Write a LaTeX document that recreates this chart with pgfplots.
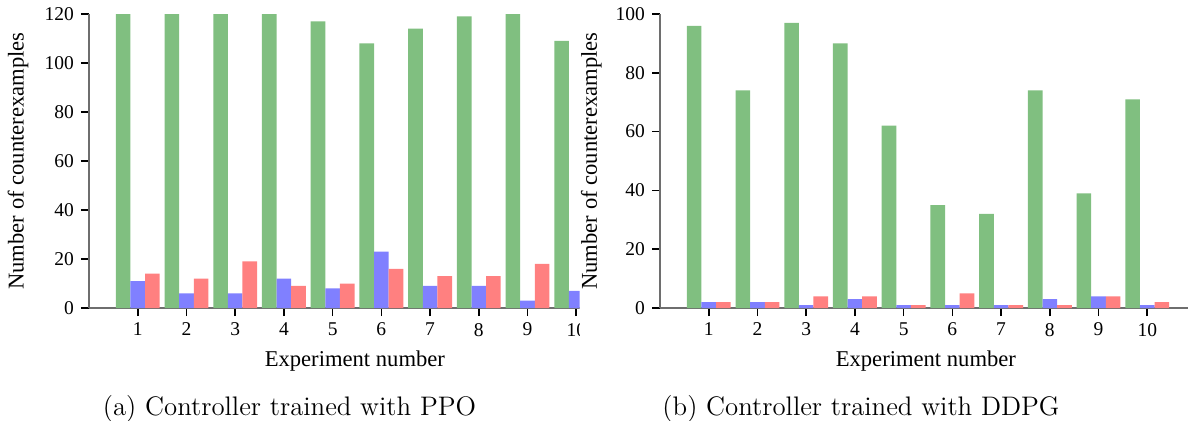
\documentclass[border=0pt]{standalone}
\usepackage{fontspec}
\usepackage{pgfplots}
\pgfplotsset{compat=1.18}
\newfontfamily\timesfont{Liberation Serif}
\definecolor{cg}{RGB}{128,191,128}
\definecolor{cb}{RGB}{128,128,255}
\definecolor{cr}{RGB}{255,128,128}
\definecolor{spine}{RGB}{110,110,110}
\pgfplotsset{
  myax/.style={
    scale only axis, width=268pt, height=147pt,
    xmin=0, xmax=11, ymin=0,
    axis x line=bottom, axis y line=left,
    axis line style={-, spine, line width=0.6pt},
    tick align=outside, major tick length=4pt,
    tick style={black, line width=0.8pt},
    xtick={1,...,10},
    tick label style={font=\fontsize{9.75}{11}\timesfont},
    /pgf/number format/assume math mode=true,
    label style={font=\fontsize{11.3}{13}\timesfont},
    xlabel={Experiment number},
    ylabel={Number of counterexamples},
    xlabel style={at={(axis description cs:0.496,-0.2)}, anchor=base},
  },
  gb/.style={ybar, bar width=0.3, bar shift=-0.3, fill=cg, draw=none},
  bb/.style={ybar, bar width=0.3, bar shift=0, fill=cb, draw=none},
  rb/.style={ybar, bar width=0.3, bar shift=0.3, fill=cr, draw=none},
}
\begin{document}
\begin{tikzpicture}
\useasboundingbox (0,0) rectangle (594pt,210pt);
\begin{scope}
\clip (0,0) rectangle (289.75pt,210pt);
\begin{axis}[myax, at={(44.5pt,56pt)}, anchor=south west,
  ymax=120, ytick={0,20,...,120},
  ylabel style={at={(axis description cs:-0.1325,0.5)}, anchor=center}]
\addplot[gb] coordinates {(1,120) (2,120) (3,120) (4,120) (5,117) (6,108) (7,114) (8,119) (9,120) (10,109)};
\addplot[bb] coordinates {(1,11) (2,6) (3,6) (4,12) (5,8) (6,23) (7,9) (8,9) (9,3) (10,7)};
\addplot[rb] coordinates {(1,14) (2,12) (3,19) (4,9) (5,10) (6,16) (7,13) (8,13) (9,18) (10,10)};
\end{axis}
\end{scope}
\begin{scope}
\clip (289.75pt,0) rectangle (594pt,210pt);
\begin{axis}[myax, at={(330pt,56pt)}, anchor=south west,
  ymax=100, ytick={0,20,...,100},
  ylabel style={at={(axis description cs:-0.128,0.5)}, anchor=center}]
\addplot[gb] coordinates {(1,96) (2,74) (3,97) (4,90) (5,62) (6,35) (7,32) (8,74) (9,39) (10,71)};
\addplot[bb] coordinates {(1,2) (2,2) (3,1) (4,3) (5,1) (6,1) (7,1) (8,3) (9,4) (10,1)};
\addplot[rb] coordinates {(1,2) (2,2) (3,4) (4,4) (5,1) (6,5) (7,1) (8,1) (9,4) (10,2)};
\end{axis}
\end{scope}
\node[anchor=base, font=\fontsize{13.4}{15}\selectfont] at (144.75pt,2.5pt) {(a) Controller trained with PPO};
\node[anchor=base, font=\fontsize{13.4}{15}\selectfont] at (430.5pt,2.5pt) {(b) Controller trained with DDPG};
\end{tikzpicture}
\end{document}
